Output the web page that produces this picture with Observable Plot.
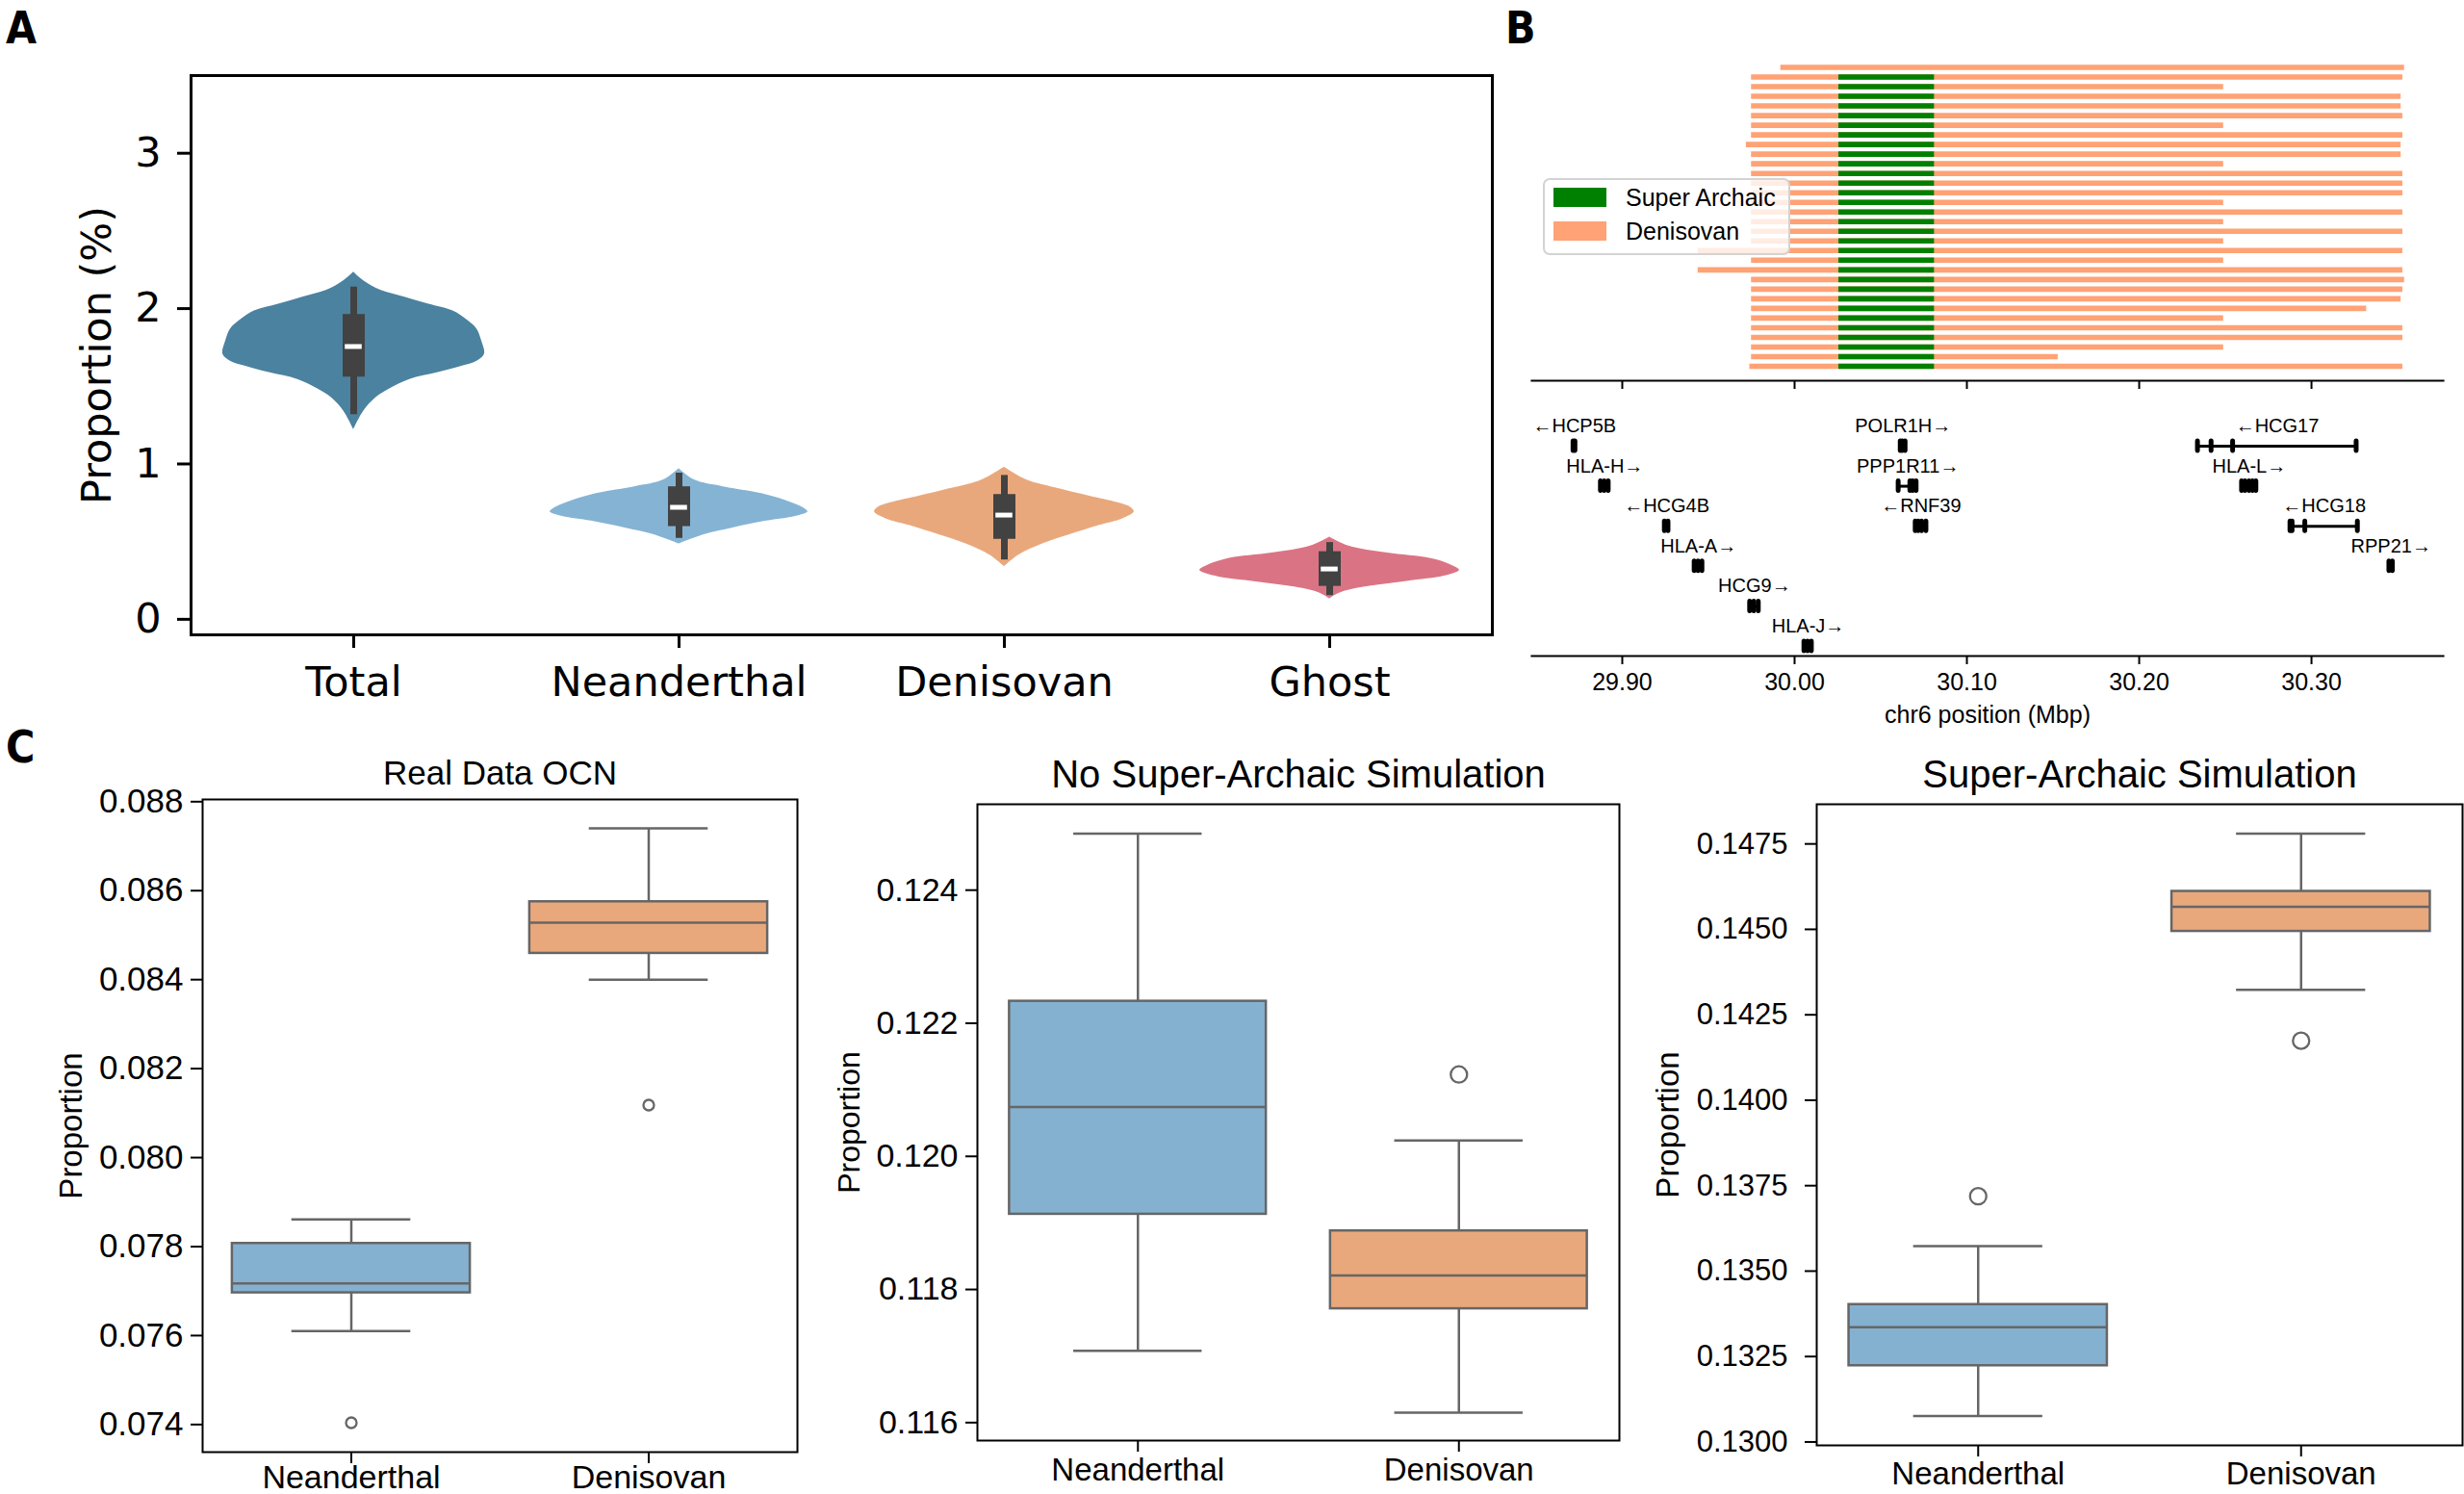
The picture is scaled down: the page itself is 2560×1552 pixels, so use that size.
<!DOCTYPE html>
<html><head><meta charset="utf-8">
<script src="https://cdn.jsdelivr.net/npm/d3@7"></script>
<script src="https://cdn.jsdelivr.net/npm/@observablehq/plot@0.6"></script>
<style>
body{margin:0;background:#fff;}
#root{position:relative;width:2560px;height:1552px;overflow:hidden;background:#fff;}
.legendB{position:absolute;left:1603px;top:185px;width:253px;height:76px;border:2px solid #d3d3d3;border-radius:7px;background:rgba(255,255,255,0.8);font-family:"Liberation Sans",Arial,sans-serif;font-size:25px;color:#000;}
.legendB .sw{position:absolute;left:9px;width:55px;height:20px;}
.legendB .lb{position:absolute;left:84px;line-height:25px;}
</style></head><body><div id="root"></div>
<script>
// ---------------- Panel A: violin data ----------------
const violinCats = ["Total", "Neanderthal", "Denisovan", "Ghost"];
const violinColors = ["#4b82a0", "#85b3d4", "#e9a87c", "#da7484"];
// density outline: [proportion (%), half-width in category units]
const totalProfile = [[2.235,0],[2.176,0.033],[2.118,0.083],[2.074,0.157],[2.029,0.231],[1.985,0.305],[1.926,0.349],[1.868,0.379],[1.794,0.393],[1.706,0.402],[1.662,0.379],[1.632,0.337],[1.588,0.26],[1.544,0.172],[1.485,0.112],[1.426,0.068],[1.338,0.03],[1.221,0]];
const neanderthalProfile = [[0.971,0],[0.897,0.047],[0.853,0.136],[0.809,0.254],[0.765,0.328],[0.721,0.379],[0.691,0.396],[0.662,0.358],[0.632,0.269],[0.588,0.166],[0.544,0.077],[0.485,0]];
const denisovanProfile = [[0.979,0],[0.897,0.068],[0.838,0.172],[0.794,0.26],[0.75,0.349],[0.721,0.388],[0.691,0.399],[0.647,0.364],[0.603,0.29],[0.544,0.201],[0.485,0.118],[0.412,0.044],[0.338,0]];
const ghostProfile = [[0.529,0],[0.471,0.059],[0.426,0.178],[0.391,0.311],[0.353,0.37],[0.315,0.399],[0.279,0.355],[0.244,0.237],[0.206,0.104],[0.168,0.03],[0.132,0]];
const aWhiskerLow = [1.318, 0.521, 0.382, 0.153];
const aQ1 = [1.559, 0.597, 0.515, 0.212];
const aMedian = [1.756, 0.721, 0.671, 0.324];
const aQ3 = [1.962, 0.853, 0.803, 0.435];
const aWhiskerHigh = [2.138, 0.941, 0.926, 0.494];
const aYTicks = [0, 1, 2, 3];

// ---------------- Panel B: haplotypes ----------------
const hapStart = [29.992,29.975,29.975,29.975,29.975,29.975,29.975,29.975,29.972,29.975,29.975,29.975,29.975,29.975,29.975,29.975,29.975,29.975,29.975,29.944,29.975,29.944,29.975,29.975,29.975,29.975,29.975,29.975,29.975,29.975,29.975,29.974];
const hapEnd = [30.354,30.353,30.249,30.352,30.352,30.353,30.249,30.353,30.352,30.352,30.249,30.353,30.353,30.353,30.249,30.353,30.249,30.353,30.249,30.353,30.249,30.353,30.354,30.353,30.352,30.332,30.249,30.353,30.353,30.249,30.153,30.353];
const hapSuper = [0,1,1,1,1,1,1,1,1,1,1,1,1,1,1,1,1,1,1,1,1,1,1,1,1,1,1,1,1,1,1,1];
const superStart = 30.0257, superEnd = 30.0812;
const bTicks = [29.9, 30.0, 30.1, 30.2, 30.3];
const bDomain = [29.8475, 30.3765];

// genes
const geneNames = ["\u2190HCP5B","POLR1H\u2192","\u2190HCG17","HLA-H\u2192","PPP1R11\u2192","HLA-L\u2192","\u2190HCG4B","\u2190RNF39","\u2190HCG18","HLA-A\u2192","RPP21\u2192","HCG9\u2192","HLA-J\u2192"];
const geneRows = [1,1,1,2,2,2,3,3,3,4,4,5,6];
const geneStarts = [29.8715,30.0612,30.2341,29.8870,30.0600,30.2592,29.9243,30.0698,30.2878,29.9415,30.3447,29.9738,30.0052];
const geneEnds =   [29.8730,30.0648,30.3262,29.8927,30.0715,30.2685,29.9272,30.0770,30.3269,29.9470,30.3477,29.9797,30.0105];
// exons: [gene index, position]
const exons = [[0,29.8717],[0,29.8728],[1,30.0616],[1,30.0628],[1,30.0644],[2,30.2341],[2,30.2420],[2,30.2545],[2,30.3262],
  [3,29.8876],[3,29.8898],[3,29.8921],[4,30.0604],[4,30.0672],[4,30.0688],[4,30.0708],[5,30.2597],[5,30.2617],[5,30.2640],[5,30.2660],[5,30.2680],
  [6,29.9247],[6,29.9268],[7,30.0703],[7,30.0720],[7,30.0740],[7,30.0765],[8,30.2878],[8,30.2890],[8,30.2964],[8,30.3269],
  [9,29.9420],[9,29.9442],[9,29.9465],[10,30.3452],[10,30.3472],[11,29.9742],[11,29.9766],[11,29.9792],[12,30.0057],[12,30.0078],[12,30.0100]];

// ---------------- Panel C: box plots ----------------
const cCats = ["Neanderthal", "Denisovan"];
const cColors = ["#85b1d1", "#e9a87c"];
const realLow = [0.0761, 0.0840], realQ1 = [0.07696, 0.08459], realMed = [0.07717, 0.08528], realQ3 = [0.07807, 0.08575], realHigh = [0.07861, 0.0874];
const realOutliers = [[0, 0.07404], [1, 0.08118]];
const realTicks = [0.074, 0.076, 0.078, 0.080, 0.082, 0.084, 0.086, 0.088];
const noSaLow = [0.11708, 0.11615], noSaQ1 = [0.11913, 0.11771], noSaMed = [0.12074, 0.11821], noSaQ3 = [0.12233, 0.11888], noSaHigh = [0.12485, 0.12024];
const noSaOutliers = [[1, 0.12123]];
const noSaTicks = [0.116, 0.118, 0.120, 0.122, 0.124];
const saLow = [0.13076, 0.14323], saQ1 = [0.13223, 0.14494], saMed = [0.13336, 0.14566], saQ3 = [0.13402, 0.14611], saHigh = [0.13573, 0.1478];
const saOutliers = [[0, 0.13719], [1, 0.14174]];
const saTicks = [0.13, 0.1325, 0.135, 0.1375, 0.14, 0.1425, 0.145, 0.1475];

// ---------------- helpers ----------------
const root = document.getElementById("root");
function place(el, left, top) {
  el.style.position = "absolute";
  el.style.left = left + "px";
  el.style.top = top + "px";
  el.style.maxWidth = "none";
  el.style.background = "transparent";
  el.style.overflow = "visible";
  root.appendChild(el);
}
const idx4 = [0, 1, 2, 3];

// ---------------- Panel A ----------------
const violinProfiles = [totalProfile, neanderthalProfile, denisovanProfile, ghostProfile];
const plotA = Plot.plot({
  width: 1600, height: 760,
  marginLeft: 198, marginRight: 50, marginTop: 78, marginBottom: 101,
  x: {domain: [-0.5, 3.5]},
  y: {domain: [-0.1, 3.5]},
  style: {fontFamily: "DejaVu Sans", fontSize: "43px", color: "#000", background: "transparent", overflow: "visible"},
  marks: [
    ...violinProfiles.map((p, i) => Plot.areaX(p, {y: d => d[0], x1: d => i - d[1], x2: d => i + d[1], fill: violinColors[i], curve: "catmull-rom"})),
    Plot.ruleX(idx4, {x: i => i, y1: i => aWhiskerLow[i], y2: i => aWhiskerHigh[i], stroke: "#424242", strokeWidth: 7}),
    Plot.ruleX(idx4, {x: i => i, y1: i => aQ1[i], y2: i => aQ3[i], stroke: "#424242", strokeWidth: 23}),
    Plot.ruleY(idx4, {y: i => aMedian[i], x1: i => i - 0.026, x2: i => i + 0.026, stroke: "#fff", strokeWidth: 5}),
    Plot.frame({stroke: "#000", strokeWidth: 3}),
    Plot.axisX(idx4, {tickFormat: i => violinCats[i], tickSize: 14, tickPadding: 19, strokeWidth: 3, label: null, fontSize: 43}),
    Plot.axisY(aYTicks, {tickFormat: d3.format("d"), tickSize: 14, tickPadding: 17, strokeWidth: 3, label: null, fontSize: 43}),
    Plot.text(["Proportion (%)"], {text: d => d, frameAnchor: "left", dx: -97, rotate: -90, fontSize: 43, textAnchor: "middle", lineAnchor: "middle"})
  ]
});
place(plotA, 0, 0);

// ---------------- Panel B (haplotypes) ----------------
const hapIdx = hapStart.map((_, i) => i);
const superIdx = hapIdx.filter(i => hapSuper[i]);
const plotB1 = Plot.plot({
  width: 1000, height: 420,
  marginLeft: 31, marginRight: 22, marginTop: 40, marginBottom: 25,
  x: {domain: bDomain},
  y: {domain: [0, 31], range: [69.5, 380], axis: null},
  style: {fontFamily: "Liberation Sans", fontSize: "25px", color: "#000", background: "transparent", overflow: "visible"},
  marks: [
    Plot.ruleY(hapIdx, {y: i => i, x1: i => hapStart[i], x2: i => hapEnd[i], stroke: "#ffa275", strokeWidth: 5.6}),
    Plot.ruleY(superIdx, {y: i => i, x1: () => superStart, x2: () => superEnd, stroke: "#008000", strokeWidth: 5.6}),
    Plot.frame({anchor: "bottom", stroke: "#000", strokeWidth: 2.2}),
    Plot.axisX(bTicks, {tickSize: 9, tickFormat: () => "", strokeWidth: 2, label: null})
  ]
});
place(plotB1, 1560, 0);

// legend (HTML)
const legend = document.createElement("div");
legend.className = "legendB";
legend.innerHTML = '<div class="sw" style="top:8px;background:#008000"></div><div class="lb" style="top:6px">Super Archaic</div>' +
  '<div class="sw" style="top:43px;background:#ffa275"></div><div class="lb" style="top:41px">Denisovan</div>';
root.appendChild(legend);

// ---------------- Panel B (genes) ----------------
const geneIdx = geneNames.map((_, i) => i);
const plotB2 = Plot.plot({
  width: 1000, height: 352,
  marginLeft: 31, marginRight: 22, marginTop: 20, marginBottom: 71,
  x: {domain: bDomain},
  y: {domain: [1, 6], range: [63, 271], axis: null},
  style: {fontFamily: "Liberation Sans", fontSize: "25px", color: "#000", background: "transparent", overflow: "visible"},
  marks: [
    Plot.ruleY(geneIdx, {y: i => geneRows[i], x1: i => geneStarts[i], x2: i => geneEnds[i], stroke: "#000", strokeWidth: 3}),
    Plot.rect(exons, {x1: d => d[1] - 0.0014, x2: d => d[1] + 0.0014, y1: d => geneRows[d[0]] - 0.18, y2: d => geneRows[d[0]] + 0.18, fill: "#000", rx: 3}),
    Plot.text(geneIdx, {x: i => (geneStarts[i] + geneEnds[i]) / 2, y: i => geneRows[i], dy: -21, text: i => geneNames[i], fontSize: 20, fontFamily: "Liberation Sans, DejaVu Sans", lineAnchor: "middle"}),
    Plot.frame({anchor: "bottom", stroke: "#000", strokeWidth: 2.2}),
    Plot.axisX(bTicks, {tickSize: 9, tickPadding: 9, tickFormat: d3.format(".2f"), strokeWidth: 2, fontSize: 25, label: null}),
    Plot.text(["chr6 position (Mbp)"], {text: d => d, frameAnchor: "bottom", dy: 61, fontSize: 25, textAnchor: "middle", lineAnchor: "middle"})
  ]
});
place(plotB2, 1560, 400);

// ---------------- Panel C ----------------
function boxPanel(o) {
  const ix = [0, 1];
  return Plot.plot({
    width: o.width, height: o.height,
    marginLeft: o.ml, marginRight: o.mr, marginTop: o.mt, marginBottom: o.mb,
    x: {domain: [-0.5, 1.5]},
    y: {domain: o.domain},
    style: {fontFamily: "Liberation Sans", fontSize: o.tickSize + "px", color: "#000", background: "transparent", overflow: "visible"},
    marks: [
      Plot.ruleX(ix, {x: i => i, y1: i => o.low[i], y2: i => o.q1[i], stroke: "#666", strokeWidth: 2.5}),
      Plot.ruleX(ix, {x: i => i, y1: i => o.q3[i], y2: i => o.high[i], stroke: "#666", strokeWidth: 2.5}),
      Plot.ruleY(ix, {y: i => o.low[i], x1: i => i - 0.2, x2: i => i + 0.2, stroke: "#666", strokeWidth: 2.5}),
      Plot.ruleY(ix, {y: i => o.high[i], x1: i => i - 0.2, x2: i => i + 0.2, stroke: "#666", strokeWidth: 2.5}),
      Plot.rect(ix, {x1: i => i - 0.4, x2: i => i + 0.4, y1: i => o.q1[i], y2: i => o.q3[i], fill: i => cColors[i], stroke: "#666", strokeWidth: 2.5}),
      Plot.ruleY(ix, {y: i => o.med[i], x1: i => i - 0.4, x2: i => i + 0.4, stroke: "#666", strokeWidth: 2.5}),
      Plot.dot(o.outliers, {x: d => d[0], y: d => d[1], r: o.r, stroke: "#666", strokeWidth: 2.3, fill: "none"}),
      Plot.frame({stroke: "#000", strokeWidth: 2}),
      Plot.axisX(ix, {tickFormat: i => cCats[i], tickSize: 12, tickPadding: o.xPad, strokeWidth: 2, fontSize: o.catSize, label: null}),
      Plot.axisY(o.ticks, {tickFormat: d3.format(o.fmt), tickSize: 12, tickPadding: o.yPad, strokeWidth: 2, fontSize: o.tickSize, label: null}),
      Plot.text([o.title], {text: d => d, frameAnchor: "top", dy: o.titleDy, fontSize: o.titleSize, textAnchor: "middle", lineAnchor: "middle"}),
      Plot.text(["Proportion"], {text: d => d, frameAnchor: "left", dx: o.ylDx, rotate: -90, fontSize: o.ylSize, textAnchor: "middle", lineAnchor: "middle"})
    ]
  });
}
place(boxPanel({width: 860, height: 792, ml: 210, mr: 32, mt: 70, mb: 44,
  domain: [0.07338, 0.08805], low: realLow, q1: realQ1, med: realMed, q3: realQ3, high: realHigh, outliers: realOutliers,
  ticks: realTicks, fmt: ".3f", r: 5.5, xPad: 1, yPad: 8, tickSize: 35, catSize: 34,
  title: "Real Data OCN", titleDy: -27, titleSize: 35, ylDx: -136, ylSize: 33}), 0, 760);
place(boxPanel({width: 860, height: 792, ml: 175, mr: 18, mt: 75, mb: 56,
  domain: [0.11573, 0.12529], low: noSaLow, q1: noSaQ1, med: noSaMed, q3: noSaQ3, high: noSaHigh, outliers: noSaOutliers,
  ticks: noSaTicks, fmt: ".3f", r: 8.5, xPad: 6, yPad: 8, tickSize: 34, catSize: 33,
  title: "No Super-Archaic Simulation", titleDy: -30, titleSize: 40, ylDx: -133, ylSize: 32}), 840, 760);
place(boxPanel({width: 870, height: 792, ml: 197, mr: 2, mt: 75, mb: 51,
  domain: [0.1299, 0.14866], low: saLow, q1: saQ1, med: saMed, q3: saQ3, high: saHigh, outliers: saOutliers,
  ticks: saTicks, fmt: ".4f", r: 8.5, xPad: 5, yPad: 18, tickSize: 31, catSize: 33,
  title: "Super-Archaic Simulation", titleDy: -30, titleSize: 40, ylDx: -154, ylSize: 33}), 1690, 760);

// ---------------- panel letters ----------------
const ns = "http://www.w3.org/2000/svg";
const over = document.createElementNS(ns, "svg");
over.setAttribute("width", 2560); over.setAttribute("height", 1552);
over.style.position = "absolute"; over.style.left = "0px"; over.style.top = "0px"; over.style.pointerEvents = "none";
[["A", 6, 45], ["B", 1564, 45], ["C", 6, 792]].forEach(([t, x, y]) => {
  const el = document.createElementNS(ns, "text");
  el.setAttribute("x", x); el.setAttribute("y", y);
  el.setAttribute("font-family", "'Liberation Sans Narrow','DejaVu Sans Condensed','Liberation Sans',sans-serif");
  el.setAttribute("font-weight", "bold"); el.setAttribute("font-size", 46);
  el.textContent = t;
  over.appendChild(el);
});
root.appendChild(over);
</script></body></html>
